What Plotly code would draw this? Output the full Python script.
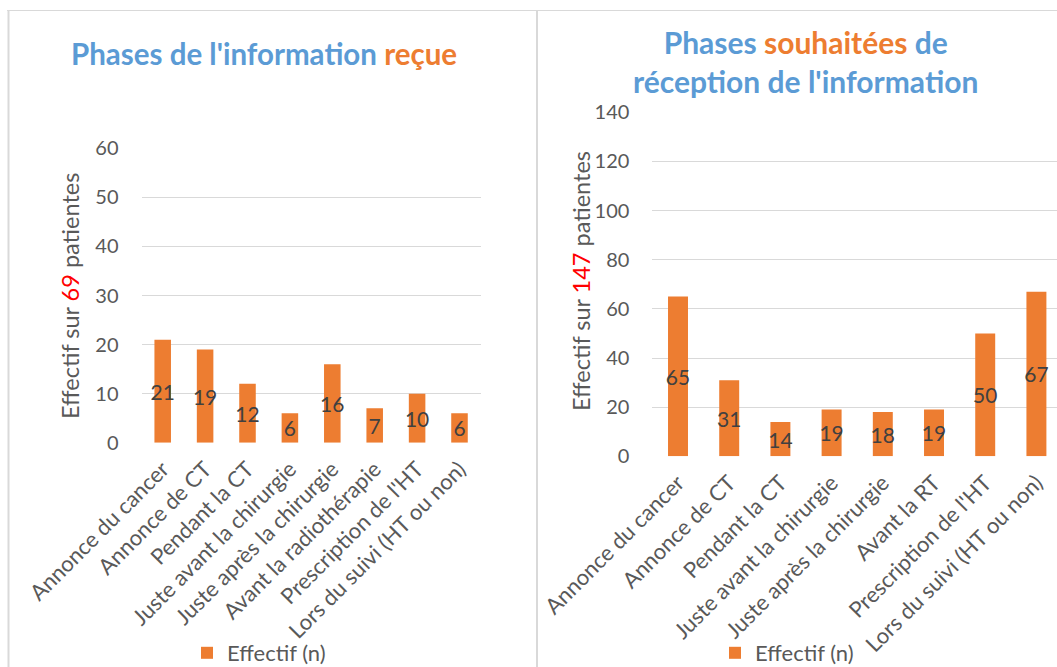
import plotly.graph_objects as go

# Data
cats_recue = ["Annonce du cancer", "Annonce de CT", "Pendant la CT",
              "Juste avant la chirurgie", "Juste après la chirurgie",
              "Avant la radiothérapie", "Prescription de l'HT",
              "Lors du suivi (HT ou non)"]
vals_recue = [21, 19, 12, 6, 16, 7, 10, 6]

cats_souhait = ["Annonce du cancer", "Annonce de CT", "Pendant la CT",
                "Juste avant la chirurgie", "Juste après la chirurgie",
                "Avant la RT", "Prescription de l'HT",
                "Lors du suivi (HT ou non)"]
vals_souhait = [65, 31, 14, 19, 18, 19, 50, 67]

ticks_left = [0, 10, 20, 30, 40, 50, 60]
ticks_right = [0, 20, 40, 60, 80, 100, 120, 140]

W, H = 1057, 667
FONT = "Lato"
ORANGE = "#ED7D31"
BLUE = "#5B9BD5"
GRID = "#D9D9D9"
AXIS_TXT = "#595959"
LABEL_TXT = "#404040"


def px(x):
    return x / W


def py(y):
    return 1 - y / H


fig = go.Figure()

fig.add_trace(go.Bar(
    x=cats_recue, y=vals_recue, name="Effectif (n)", showlegend=True,
    marker=dict(color=ORANGE, line=dict(width=0)),
    text=[str(v) for v in vals_recue], textposition="inside",
    insidetextanchor="middle", textangle=0, constraintext="none",
    textfont=dict(family=FONT, size=21, color=LABEL_TXT),
    xaxis="x", yaxis="y", legend="legend",
))
fig.add_trace(go.Bar(
    x=cats_souhait, y=vals_souhait, name="Effectif (n)", showlegend=True,
    marker=dict(color=ORANGE, line=dict(width=0)),
    text=[str(v) for v in vals_souhait], textposition="inside",
    insidetextanchor="middle", textangle=0, constraintext="none",
    textfont=dict(family=FONT, size=21, color=LABEL_TXT),
    xaxis="x2", yaxis="y2", legend="legend2",
))

x_common = dict(
    showline=False, zeroline=False, automargin=False, showgrid=False,
    tickangle=-45, ticks="outside", ticklen=4, tickcolor="rgba(0,0,0,0)",
    tickfont=dict(family=FONT, size=22, color=AXIS_TXT),
)
y_common = dict(
    showline=False, zeroline=False, automargin=False,
    showgrid=True, gridcolor=GRID, gridwidth=1.3,
    ticks="outside", ticklen=18, tickcolor="rgba(0,0,0,0)",
    tickfont=dict(family=FONT, size=20, color=AXIS_TXT),
)

fig.update_layout(
    width=W, height=H,
    margin=dict(l=0, r=0, t=0, b=0, autoexpand=False),
    paper_bgcolor="white", plot_bgcolor="white",
    bargap=0.61, showlegend=True,
    font=dict(family=FONT, color=AXIS_TXT),
    xaxis=dict(domain=[px(141.5), px(480.7)], anchor="y",
               range=[-0.5, 7.5], **x_common),
    yaxis=dict(domain=[py(442.7), py(148.3)], anchor="x",
               range=[0, 60], tickvals=ticks_left, **y_common),
    xaxis2=dict(domain=[px(652.4), 1.0], anchor="y2",
                range=[-0.5, 7.402], **x_common),
    yaxis2=dict(domain=[py(456.3), py(112.3)], anchor="x2",
                range=[0, 140], tickvals=ticks_right, **y_common),
    legend=dict(orientation="h", x=px(259), xanchor="center",
                y=py(653), yanchor="middle",
                font=dict(family=FONT, size=22, color=AXIS_TXT),
                bgcolor="rgba(0,0,0,0)"),
    legend2=dict(orientation="h", x=px(787), xanchor="center",
                 y=py(653), yanchor="middle",
                 font=dict(family=FONT, size=22, color=AXIS_TXT),
                 bgcolor="rgba(0,0,0,0)"),
)

# Panel frames
fig.add_shape(type="line", xref="paper", yref="paper",
              x0=px(7), x1=1.0, y0=py(10.5), y1=py(10.5),
              line=dict(color=GRID, width=1))
fig.add_shape(type="line", xref="paper", yref="paper",
              x0=px(8.5), x1=px(8.5), y0=py(10), y1=-0.02,
              line=dict(color=GRID, width=2))
fig.add_shape(type="line", xref="paper", yref="paper",
              x0=px(537), x1=px(537), y0=py(10), y1=-0.02,
              line=dict(color=GRID, width=2))

# Titles
fig.add_annotation(
    xref="paper", yref="paper", x=px(264), y=py(53),
    xanchor="center", yanchor="middle", showarrow=False,
    text=(f"<b><span style='color:{BLUE}'>Phases de l'information </span>"
          f"<span style='color:{ORANGE}'>reçue</span></b>"),
    font=dict(family=FONT, size=29.5),
)
fig.add_annotation(
    xref="paper", yref="paper", x=px(805), y=py(61),
    xanchor="center", yanchor="middle", showarrow=False,
    text=(f"<b><span style='color:{BLUE}'>Phases </span>"
          f"<span style='color:{ORANGE}'>souhaitées</span>"
          f"<span style='color:{BLUE}'> de</span><br>"
          f"<span style='color:{BLUE}'>réception de l'information</span></b>"),
    font=dict(family=FONT, size=30),
)

# Y axis titles
fig.add_annotation(
    xref="paper", yref="paper", x=px(70), y=py(296),
    xanchor="center", yanchor="middle", showarrow=False, textangle=-90,
    text=("Effectif sur <span style='color:#FF0000'>69</span> patientes"),
    font=dict(family=FONT, size=23.5, color=AXIS_TXT),
)
fig.add_annotation(
    xref="paper", yref="paper", x=px(581), y=py(281),
    xanchor="center", yanchor="middle", showarrow=False, textangle=-90,
    text=("Effectif sur <span style='color:#FF0000'>147</span> patientes"),
    font=dict(family=FONT, size=23.5, color=AXIS_TXT),
)

fig.write_html("out.html")
